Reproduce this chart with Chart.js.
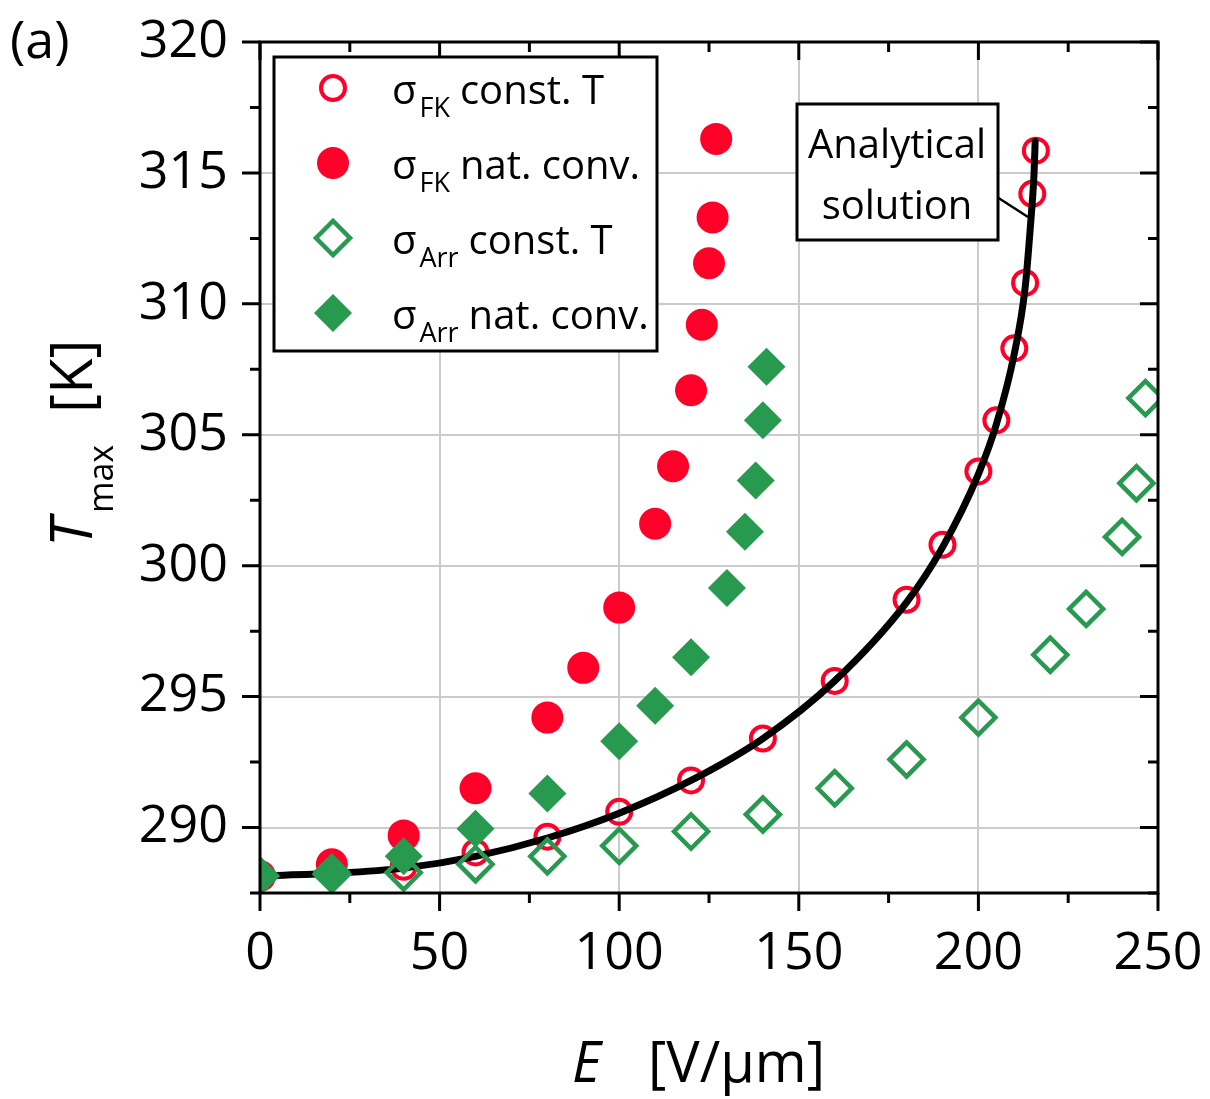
<!DOCTYPE html>
<html>
<head>
<meta charset="utf-8">
<title>Tmax vs E</title>
<script src="https://cdn.jsdelivr.net/npm/chart.js@4.4.1/dist/chart.umd.min.js"></script>
<style>
  html, body { margin: 0; padding: 0; background: #fff; }
  canvas { display: block; }
</style>
</head>
<body>
<canvas id="chart" width="1210" height="1099"></canvas>
<script>
// Data (E in V/um, T in K)
const fkConstE = [0, 20, 40, 60, 80, 100, 120, 140, 160, 180, 190, 200, 205, 210, 213, 215, 216];
const fkConstT = [288.15, 288.3, 288.5, 289.05, 289.65, 290.6, 291.8, 293.4, 295.6, 298.7, 300.8, 303.6, 305.55, 308.3, 310.8, 314.2, 315.85];

const fkNatE = [0, 20, 40, 60, 80, 90, 100, 110, 115, 120, 123, 125, 126, 127];
const fkNatT = [288.15, 288.6, 289.7, 291.5, 294.2, 296.1, 298.4, 301.6, 303.8, 306.7, 309.2, 311.55, 313.3, 316.3];

const arrConstE = [0, 20, 40, 60, 80, 100, 120, 140, 160, 180, 200, 220, 230, 240, 244, 246.5];
const arrConstT = [288.15, 288.22, 288.28, 288.6, 288.9, 289.3, 289.85, 290.5, 291.5, 292.6, 294.2, 296.6, 298.35, 301.1, 303.15, 306.4];

const arrNatE = [0, 20, 40, 60, 80, 100, 110, 120, 130, 135, 138, 140, 141];
const arrNatT = [288.15, 288.3, 288.9, 289.95, 291.3, 293.3, 294.65, 296.5, 299.15, 301.3, 303.25, 305.55, 307.6];

const anaE = [0, 20, 40, 60, 80, 100, 120, 140, 160, 180, 190, 200, 205, 210, 213, 214.5, 215.5, 215.8];
const anaT = [288.15, 288.25, 288.45, 288.9, 289.6, 290.55, 291.8, 293.4, 295.6, 298.6, 300.7, 303.5, 305.4, 308.1, 310.6, 313.0, 315.0, 316.2];

const xTicks = [0, 50, 100, 150, 200, 250];
const xMinorTicks = [25, 75, 125, 175, 225];
const yTicks = [290, 295, 300, 305, 310, 315, 320];
const yMinorTicks = [287.5, 292.5, 297.5, 302.5, 307.5, 312.5, 317.5];

const RED = "#ff0028";
const GREEN = "#279a4f";
const GRID = "#cbcbcb";
const FONT = "'Open Sans', sans-serif";

function pts(xs, ys) {
  return xs.map((x, i) => ({ x: x, y: ys[i] }));
}

// Legend entries (drawn by the plugin because of the subscripts)
const legendItems = [
  { shape: "circle", filled: false, color: RED, sub: "FK", text: "const. T" },
  { shape: "circle", filled: true, color: RED, sub: "FK", text: "nat. conv." },
  { shape: "diamond", filled: false, color: GREEN, sub: "Arr", text: "const. T" },
  { shape: "diamond", filled: true, color: GREEN, sub: "Arr", text: "nat. conv." },
];

function drawMarker(ctx, item, cx, cy) {
  ctx.save();
  ctx.beginPath();
  if (item.shape === "circle") {
    ctx.arc(cx, cy, item.filled ? 16 : 12, 0, Math.PI * 2);
  } else {
    const r = item.filled ? 19 : 17;
    ctx.moveTo(cx - r, cy);
    ctx.lineTo(cx, cy - r);
    ctx.lineTo(cx + r, cy);
    ctx.lineTo(cx, cy + r);
    ctx.closePath();
  }
  if (item.filled) {
    ctx.fillStyle = item.color;
    ctx.fill();
  } else {
    ctx.strokeStyle = item.color;
    ctx.lineWidth = item.shape === "circle" ? 4 : 4.5;
    ctx.stroke();
  }
  ctx.restore();
}

// no extra label padding: chart area is set by layout padding only
function noPad(scale) {
  scale.paddingTop = 0;
  scale.paddingBottom = 0;
  scale.paddingLeft = 0;
  scale.paddingRight = 0;
}

const framePlugin = {
  id: "frame",
  afterDraw(chart) {
    const ctx = chart.ctx;
    const a = chart.chartArea;
    const xs = chart.scales.x;
    const ys = chart.scales.y;
    ctx.save();

    // axis frame
    ctx.strokeStyle = "#000";
    ctx.lineWidth = 3;
    ctx.strokeRect(a.left, a.top, a.right - a.left, a.bottom - a.top);

    // tick marks
    ctx.beginPath();
    const tick = (px, py, dx, dy) => { ctx.moveTo(px, py); ctx.lineTo(px + dx, py + dy); };
    xTicks.forEach(v => { const p = xs.getPixelForValue(v); tick(p, a.bottom, 0, 18); tick(p, a.top, 0, 18); });
    xMinorTicks.forEach(v => { const p = xs.getPixelForValue(v); tick(p, a.bottom, 0, 10); tick(p, a.top, 0, 10); });
    yTicks.forEach(v => { const p = ys.getPixelForValue(v); tick(a.left, p, -18, 0); tick(a.right, p, -18, 0); });
    yMinorTicks.forEach(v => { const p = ys.getPixelForValue(v); tick(a.left, p, -10, 0); tick(a.right, p, -10, 0); });
    ctx.stroke();

    // legend box
    ctx.fillStyle = "#fff";
    ctx.fillRect(274, 57, 383, 294);
    ctx.strokeRect(274, 57, 383, 294);
    legendItems.forEach((item, i) => {
      const cy = 88 + i * 75;
      drawMarker(ctx, item, 333, cy);
      ctx.fillStyle = "#000";
      ctx.textBaseline = "alphabetic";
      ctx.textAlign = "left";
      let tx = 392;
      ctx.font = "40px " + FONT;
      ctx.fillText("σ", tx, cy + 16);
      tx += ctx.measureText("σ").width + 3;
      ctx.font = "27px " + FONT;
      ctx.fillText(item.sub, tx, cy + 29);
      tx += ctx.measureText(item.sub).width + 10;
      ctx.font = "40px " + FONT;
      ctx.fillText(item.text, tx, cy + 16);
    });

    // annotation for the analytical curve
    ctx.lineWidth = 2.5;
    ctx.beginPath();
    ctx.moveTo(997, 197);
    ctx.lineTo(1028, 217);
    ctx.stroke();
    ctx.lineWidth = 3;
    ctx.fillStyle = "#fff";
    ctx.fillRect(797, 104, 201, 136);
    ctx.strokeRect(797, 104, 201, 136);
    ctx.fillStyle = "#000";
    ctx.textAlign = "center";
    ctx.font = "40px " + FONT;
    ctx.fillText("Analytical", 897, 158);
    ctx.fillText("solution", 897, 219);

    // panel label
    ctx.textAlign = "left";
    ctx.font = "52px " + FONT;
    ctx.fillText("(a)", 10, 58);

    // x axis title
    ctx.font = "italic 56px " + FONT;
    ctx.fillText("E", 572, 1082);
    ctx.font = "56px " + FONT;
    ctx.fillText("[V/μm]", 648, 1082);

    // y axis title (rotated)
    ctx.translate(92, 547);
    ctx.rotate(-Math.PI / 2);
    ctx.font = "italic 58px " + FONT;
    ctx.fillText("T", 0, 0);
    ctx.font = "34px " + FONT;
    ctx.fillText("max", 34, 21);
    ctx.font = "58px " + FONT;
    ctx.fillText("[K]", 134, 0);

    ctx.restore();
  }
};

new Chart(document.getElementById("chart"), {
  type: "scatter",
  data: {
    datasets: [
      {
        label: "σArr nat. conv.",
        data: pts(arrNatE, arrNatT),
        pointStyle: "rectRot",
        pointRadius: 19,
        pointBackgroundColor: GREEN,
        pointBorderColor: GREEN,
        pointBorderWidth: 0,
        clip: 0,
      },
      {
        label: "σArr const. T",
        data: pts(arrConstE, arrConstT),
        pointStyle: "rectRot",
        pointRadius: 17,
        pointBackgroundColor: "rgba(0,0,0,0)",
        pointBorderColor: GREEN,
        pointBorderWidth: 4.5,
        clip: 0,
      },
      {
        type: "line",
        label: "Analytical solution",
        data: pts(anaE, anaT),
        showLine: true,
        fill: false,
        pointRadius: 0,
        borderColor: "#000",
        borderWidth: 7,
        borderCapStyle: "round",
        cubicInterpolationMode: "monotone",
        clip: 0,
      },
      {
        label: "σFK nat. conv.",
        data: pts(fkNatE, fkNatT),
        pointStyle: "circle",
        pointRadius: 16,
        pointBackgroundColor: RED,
        pointBorderColor: RED,
        pointBorderWidth: 0,
        clip: 0,
      },
      {
        label: "σFK const. T",
        data: pts(fkConstE, fkConstT),
        pointStyle: "circle",
        pointRadius: 12,
        pointBackgroundColor: "rgba(0,0,0,0)",
        pointBorderColor: RED,
        pointBorderWidth: 4,
        clip: 0,
      },
    ],
  },
  options: {
    responsive: false,
    animation: false,
    devicePixelRatio: 1,
    events: [],
    layout: { padding: { top: 42, right: 52, bottom: 0, left: 0 } },
    plugins: {
      legend: { display: false },
      tooltip: { enabled: false },
      title: { display: false },
    },
    scales: {
      x: {
        type: "linear",
        min: 0,
        max: 250,
        afterBuildTicks: (scale) => { scale.ticks = xTicks.map(v => ({ value: v })); },
        afterFit: (scale) => { scale.height = 206; noPad(scale); },
        border: { display: false },
        grid: {
          drawTicks: false,
          lineWidth: 2,
          color: (c) => (c.tick && (c.tick.value === 0 || c.tick.value === 250)) ? "rgba(0,0,0,0)" : GRID,
        },
        ticks: {
          color: "#000",
          padding: 30,
          maxRotation: 0,
          font: { family: FONT, size: 52 },
        },
      },
      y: {
        type: "linear",
        min: 287.5,
        max: 320,
        afterBuildTicks: (scale) => { scale.ticks = yTicks.map(v => ({ value: v })); },
        afterFit: (scale) => { scale.width = 260; noPad(scale); },
        border: { display: false },
        grid: {
          drawTicks: false,
          lineWidth: 2,
          color: (c) => (c.tick && c.tick.value === 320) ? "rgba(0,0,0,0)" : GRID,
        },
        ticks: {
          color: "#000",
          padding: 32,
          font: { family: FONT, size: 52 },
        },
      },
    },
  },
  plugins: [framePlugin],
});
</script>
</body>
</html>
